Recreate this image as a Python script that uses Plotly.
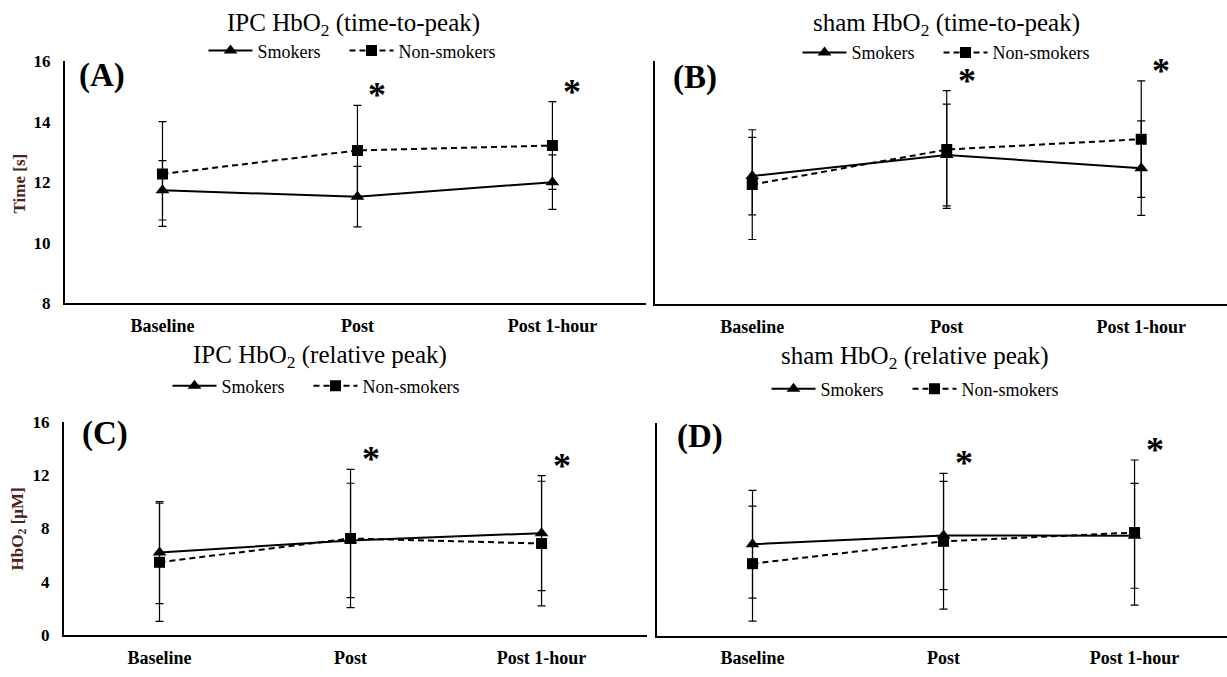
import plotly.graph_objects as go

# Time points on the x axis
categories = ["Baseline", "Post", "Post 1-hour"]

# (A) IPC HbO2 time-to-peak [s]
ipc_ttp_smokers = [11.74, 11.53, 12.01]
ipc_ttp_smokers_sd = [0.98, 1.00, 0.90]
ipc_ttp_nonsmokers = [12.28, 13.06, 13.22]
ipc_ttp_nonsmokers_sd = [1.73, 1.49, 1.45]

# (B) sham HbO2 time-to-peak [s]
sham_ttp_smokers = [12.21, 12.90, 12.47]
sham_ttp_smokers_sd = [1.27, 1.67, 1.55]
sham_ttp_nonsmokers = [11.93, 13.08, 13.42]
sham_ttp_nonsmokers_sd = [1.80, 1.93, 1.91]

# (C) IPC HbO2 relative peak [uM]
ipc_rp_smokers = [6.19, 7.10, 7.65]
ipc_rp_smokers_sd = [3.84, 4.30, 4.32]
ipc_rp_nonsmokers = [5.46, 7.25, 6.87]
ipc_rp_nonsmokers_sd = [4.44, 5.20, 4.68]

# (D) sham HbO2 relative peak [uM]
sham_rp_smokers = [6.89, 7.55, 7.52]
sham_rp_smokers_sd = [4.05, 4.07, 3.94]
sham_rp_nonsmokers = [5.43, 7.11, 7.77]
sham_rp_nonsmokers_sd = [4.32, 5.10, 5.45]

# Time points marked as significant (asterisk)
significant = [False, True, True]

W, H = 1227, 677
SERIF = "Liberation Serif"
AXIS_TITLE_COLOR = "#4b2318"


def px_x(x):
    return x / W


def px_y(y):
    return 1 - y / H


panels = [
    dict(name="A", title="IPC HbO<sub>2</sub> (time-to-peak)",
         s=ipc_ttp_smokers, s_sd=ipc_ttp_smokers_sd,
         n=ipc_ttp_nonsmokers, n_sd=ipc_ttp_nonsmokers_sd,
         xdom=(65, 646), ydom=(54, 303), xr=2.48, yr=(8, 16), dtick=2,
         ticks=True, ytitle="Time [s]", title_xy=(353, 16), leg_xy=(352, 43),
         lab_xy=(77, 68)),
    dict(name="B", title="sham HbO<sub>2</sub> (time-to-peak)",
         s=sham_ttp_smokers, s_sd=sham_ttp_smokers_sd,
         n=sham_ttp_nonsmokers, n_sd=sham_ttp_nonsmokers_sd,
         xdom=(655, 1227), ydom=(53, 304), xr=2.441, yr=(8, 16), dtick=2,
         ticks=False, ytitle=None, title_xy=(947, 16), leg_xy=(946, 45),
         lab_xy=(671, 70)),
    dict(name="C", title="IPC HbO<sub>2</sub> (relative peak)",
         s=ipc_rp_smokers, s_sd=ipc_rp_smokers_sd,
         n=ipc_rp_nonsmokers, n_sd=ipc_rp_nonsmokers_sd,
         xdom=(64, 647), ydom=(425, 644), xr=2.552, yr=(0, 16), dtick=4,
         ticks=True, ytitle="HbO<sub>2</sub> [μM]", title_xy=(320, 358),
         leg_xy=(316, 388), lab_xy=(80, 437)),
    dict(name="D", title="sham HbO<sub>2</sub> (relative peak)",
         s=sham_rp_smokers, s_sd=sham_rp_smokers_sd,
         n=sham_rp_nonsmokers, n_sd=sham_rp_nonsmokers_sd,
         xdom=(657, 1227), ydom=(426, 645), xr=2.484, yr=(0, 16), dtick=4,
         ticks=False, ytitle=None, title_xy=(915, 359), leg_xy=(915, 391),
         lab_xy=(675, 440)),
]

fig = go.Figure()
annotations = []
xs = list(range(len(categories)))

for i, p in enumerate(panels, start=1):
    sfx = "" if i == 1 else str(i)
    xa, ya = "x" + sfx, "y" + sfx
    leg = "legend" + sfx

    fig.add_trace(go.Scatter(
        x=xs, y=p["s"], name="Smokers", mode="lines+markers",
        line=dict(color="black", width=2),
        marker=dict(symbol="triangle-up", size=12, color="black"),
        error_y=dict(type="data", array=p["s_sd"], visible=True,
                     color="black", thickness=1.2, width=4),
        xaxis=xa, yaxis=ya, legend=leg, legendwidth=82))
    fig.add_trace(go.Scatter(
        x=xs, y=p["n"], name="Non-smokers", mode="lines+markers",
        line=dict(color="black", width=2, dash="6px,4px"),
        marker=dict(symbol="square", size=11, color="black"),
        error_y=dict(type="data", array=p["n_sd"], visible=True,
                     color="black", thickness=1.2, width=4),
        xaxis=xa, yaxis=ya, legend=leg))

    x0, x1 = p["xdom"]
    y0, y1 = p["ydom"]
    fig.layout["xaxis" + sfx] = dict(
        domain=[px_x(x0), min(1.0, px_x(x1))], anchor=ya,
        range=[-0.5, p["xr"]], tickvals=xs, ticktext=categories,
        showline=True, linecolor="black", linewidth=2, showgrid=False,
        zeroline=False, ticks="", ticklabelstandoff=5,
        tickfont=dict(family=SERIF, size=18, color="black", weight="bold"))
    fig.layout["yaxis" + sfx] = dict(
        domain=[px_y(y1), px_y(y0)], anchor=xa,
        range=list(p["yr"]), dtick=p["dtick"], showticklabels=p["ticks"],
        showline=True, linecolor="black", linewidth=2, showgrid=False,
        zeroline=False, ticks="", ticklabelstandoff=9,
        tickfont=dict(family=SERIF, size=17, color="black", weight="bold"))

    lx, ly = p["leg_xy"]
    fig.layout[leg] = dict(
        x=px_x(lx), y=px_y(ly), xanchor="center", yanchor="middle",
        orientation="h", bgcolor="rgba(0,0,0,0)", itemwidth=44,
        font=dict(family=SERIF, size=18, color="black"),
        tracegroupgap=0, itemclick=False)

    tx, ty = p["title_xy"]
    annotations.append(dict(
        x=px_x(tx), y=px_y(ty), xref="paper", yref="paper",
        xanchor="center", yanchor="middle", showarrow=False,
        text=p["title"], font=dict(family=SERIF, size=25, color="black")))

    ax_, ay_ = p["lab_xy"]
    annotations.append(dict(
        x=px_x(ax_), y=px_y(ay_), xref="paper", yref="paper",
        xanchor="left", yanchor="middle", showarrow=False,
        text="(" + p["name"] + ")",
        font=dict(family=SERIF, size=33, color="black", weight="bold")))

    if p["ytitle"]:
        annotations.append(dict(
            x=px_x(19), y=px_y((y0 + y1) / 2 + 1), xref="paper", yref="paper",
            xanchor="center", yanchor="middle", showarrow=False,
            textangle=-90, text=p["ytitle"],
            font=dict(family=SERIF, size=17, color=AXIS_TITLE_COLOR,
                      weight="bold")))

    # asterisks above the highest error bar at significant time points
    for k, sig in enumerate(significant):
        if not sig:
            continue
        top = max(p["s"][k] + p["s_sd"][k], p["n"][k] + p["n_sd"][k])
        annotations.append(dict(
            x=k, y=top, xref=xa, yref=ya, xanchor="center", yanchor="middle",
            xshift=20, yshift=10, showarrow=False, text="*",
            font=dict(family=SERIF, size=36, color="black", weight="bold")))

fig.update_layout(
    width=W, height=H, autosize=False,
    margin=dict(l=0, r=0, t=0, b=0),
    paper_bgcolor="white", plot_bgcolor="white",
    annotations=annotations,
)

fig.write_html("out.html")
